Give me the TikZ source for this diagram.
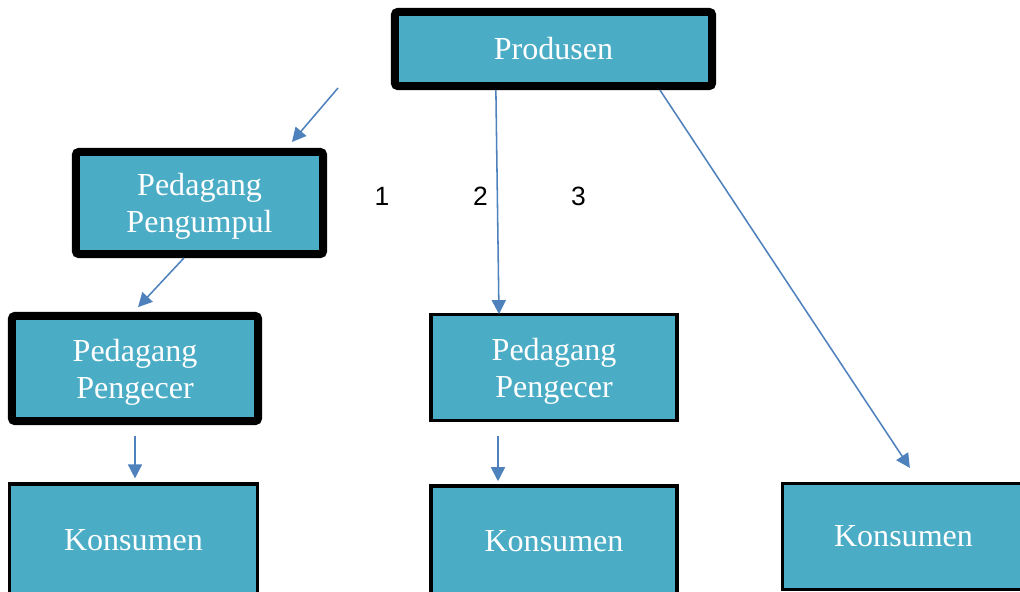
\documentclass[tikz,border=0pt]{standalone}
\usepackage{fontspec}
\setmainfont{Liberation Serif}
\newfontfamily\numfont{Liberation Sans}
\usepackage{tikz}
\usetikzlibrary{arrows.meta,shadows}
\usepackage{xcolor}
\definecolor{boxfill}{RGB}{75,172,198}
\definecolor{arrblue}{RGB}{79,129,189}

\begin{document}
\begin{tikzpicture}[
    x=0.025cm, y=-0.025cm,
    >={Triangle[length=10pt,width=10pt]},
    box/.style={rectangle, draw=black, fill=boxfill, text=white, align=center, inner sep=0pt, font=\fontsize{22.8}{26.3}\selectfont},
    bold/.style={box, line width=5.7pt, rounded corners=2pt, drop shadow={shadow xshift=0.06cm, shadow yshift=-0.06cm, opacity=0.18}},
    thin/.style={box, line width=2.5pt},
    twoline/.style={text depth=0pt},
    arr/.style={->, line width=1.1pt, color=arrblue},
    num/.style={inner sep=0pt, font=\numfont\fontsize{18.8}{22}\selectfont}
]
    \useasboundingbox (0,0) rectangle (1020,592);
    \node[bold, minimum width=7.925cm, minimum height=1.85cm] (prod) at (553.5,49) {Produsen};
    \node[bold, twoline, minimum width=6.175cm, minimum height=2.55cm] (kumpul) at (199.5,203) {Pedagang\\Pengumpul};
    \node[bold, twoline, minimum width=6.15cm, minimum height=2.625cm] (ecer1) at (135,368.5) {Pedagang\\Pengecer};
    \node[thin, twoline, minimum width=6.16cm, minimum height=2.64cm] (ecer2) at (554,367.5) {Pedagang\\Pengecer};
    \node[thin, minimum width=6.19cm, minimum height=2.81cm] (kons1) at (133.5,540) {Konsumen};
    \node[thin, minimum width=6.16cm, minimum height=2.76cm] (kons2) at (554,541) {Konsumen};
    \node[thin, minimum width=6.04cm, minimum height=2.64cm] (kons3) at (903.5,536.5) {Konsumen};
    \node[num] (n1) at (382,196.5) {1};
    \node[num] (n2) at (480.5,196.5) {2};
    \node[num] (n3) at (578.5,196.5) {3};
    \coordinate (free) at (338,88);
    \draw[arr] (free) -- ([xshift=2.31cm,yshift=0.15cm]kumpul.north);
    \draw[arr] ([xshift=-0.39cm]kumpul.south) -- ([xshift=0.075cm,yshift=0.12cm]ecer1.north);
    \draw[arr] ([yshift=-0.28cm]ecer1.south) -- ([xshift=0.0375cm,yshift=0.09cm]kons1.north);
    \draw[arr] ([xshift=-1.44cm]prod.south) -- ([xshift=-1.375cm,yshift=-0.03cm]ecer2.north);
    \draw[arr] ([xshift=-1.4cm,yshift=-0.35cm]ecer2.south) -- ([xshift=-1.4cm,yshift=0.07cm]kons2.north);
    \draw[arr] ([xshift=2.66cm]prod.south) -- ([xshift=0.16cm,yshift=0.35cm]kons3.north);
\end{tikzpicture}
\end{document}
